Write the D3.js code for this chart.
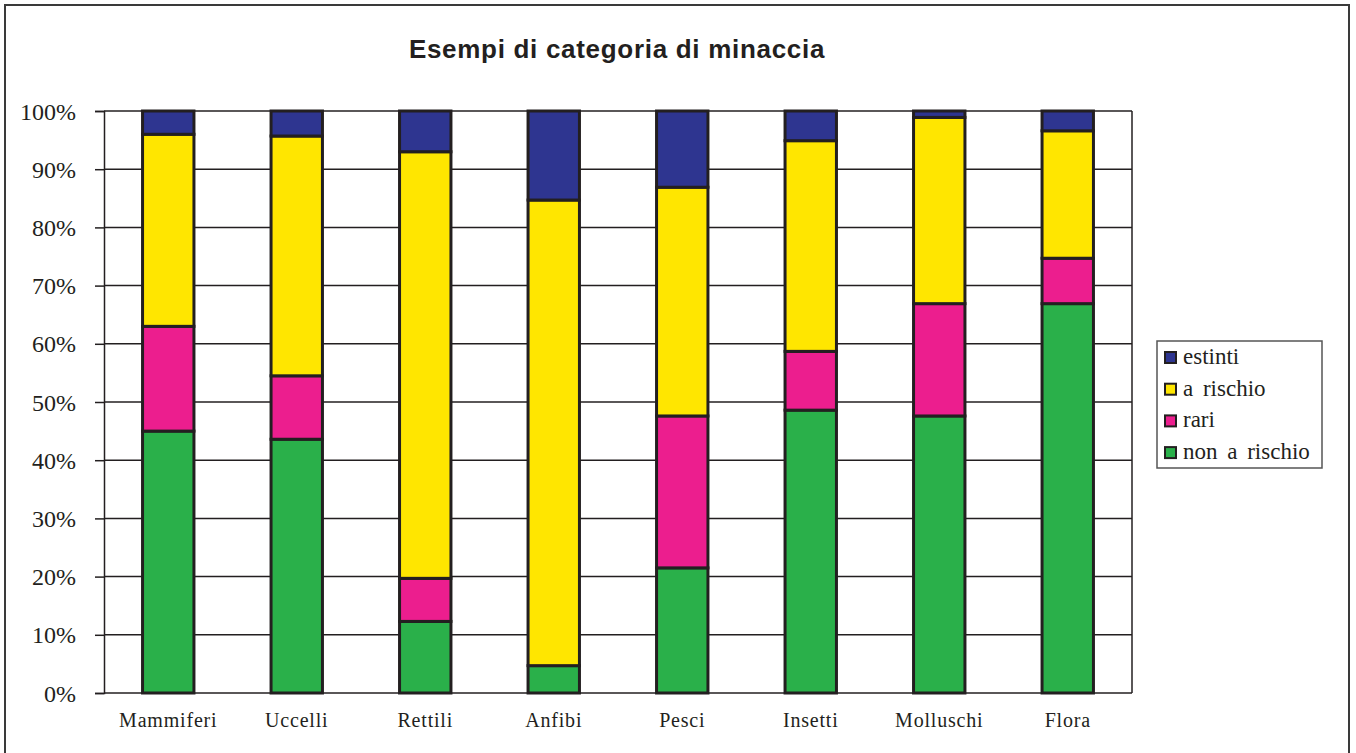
<!DOCTYPE html>
<html><head><meta charset="utf-8">
<script src="https://cdn.jsdelivr.net/npm/d3@7"></script>
<style>body{margin:0;background:#fff}svg{display:block}</style>
</head><body>
<svg id="c" width="1356" height="753"></svg>
<script>
const categories = ["Mammiferi","Uccelli","Rettili","Anfibi","Pesci","Insetti","Molluschi","Flora"];
const nonARischio = [45, 43.6, 12.3, 4.7, 21.5, 48.6, 47.6, 66.9];
const rari        = [18, 10.9, 7.4, 0, 26.1, 10.1, 19.3, 7.8];
const aRischio    = [33, 41.2, 73.3, 80, 39.3, 36.2, 32.0, 21.9];
const estinti     = [4, 4.3, 7, 15.3, 13.1, 5.1, 1.1, 3.4];
const seriesNames = ["non a rischio","rari","a rischio","estinti"];
const colors = ["#2ab04a","#ec1e8e","#ffe600","#2e3590"];
const yTicks = [0,10,20,30,40,50,60,70,80,90,100];
const title = "Esempi di categoria di minaccia";

const svg = d3.select("#c");
const L = 104, R = 1132, T = 111, B = 693;
const ink = "#231f20";
const serif = "'Liberation Serif', 'Times New Roman', serif";

svg.append("rect").attr("x",5).attr("y",5).attr("width",1344).attr("height",760)
  .attr("fill","none").attr("stroke","#3a3a3a").attr("stroke-width",2);

svg.append("text").attr("x",617).attr("y",58).attr("text-anchor","middle")
  .attr("font-family","'Liberation Sans', Arial, sans-serif").attr("font-weight","bold")
  .attr("font-size",26).attr("letter-spacing",0.7).attr("fill",ink).text(title);

const table = categories.map((c,i)=>({cat:c,"non a rischio":nonARischio[i],"rari":rari[i],"a rischio":aRischio[i],"estinti":estinti[i]}));
const stack = d3.stack().keys(seriesNames)(table);

const x = d3.scaleBand().domain(categories).range([L,R]).paddingInner(0.6).paddingOuter(0.3);
const y = d3.scaleLinear().domain([0,100]).range([B,T]);

svg.append("g").selectAll("line").data(yTicks).join("line")
  .attr("x1",L).attr("x2",R).attr("y1",d=>y(d)).attr("y2",d=>y(d))
  .attr("stroke",ink).attr("stroke-width",1.5);
svg.append("line").attr("x1",R).attr("x2",R).attr("y1",T).attr("y2",B).attr("stroke",ink).attr("stroke-width",1.5);

const yAxis = d3.axisLeft(y).tickValues(yTicks).tickFormat(d=>d+"%").tickSize(9).tickPadding(19);
const ga = svg.append("g").attr("transform",`translate(${L},0)`).call(yAxis);
ga.attr("font-family",serif).attr("font-size",24);
ga.select(".domain").attr("stroke",ink).attr("stroke-width",1.5);
ga.selectAll(".tick line").attr("stroke",ink).attr("stroke-width",1.5);
ga.selectAll(".tick text").attr("fill",ink).attr("dy","0.34em");

const xAxis = d3.axisBottom(x).tickSize(0).tickPadding(20);
const gx = svg.append("g").attr("transform",`translate(0,${B})`).call(xAxis);
gx.attr("font-family",serif).attr("font-size",20);
gx.select(".domain").remove();
gx.selectAll(".tick text").attr("letter-spacing",0.8).attr("fill",ink);

stack.forEach((s,si)=>{
  svg.append("g").selectAll("rect").data(s.filter(d=>d[1]-d[0]>0)).join("rect")
    .attr("x",d=>x(d.data.cat)).attr("width",x.bandwidth())
    .attr("y",d=>y(d[1])).attr("height",d=>y(d[0])-y(d[1]))
    .attr("fill",colors[si]).attr("stroke",ink).attr("stroke-width",3);
});

const lg = svg.append("g").attr("font-family",serif).attr("font-size",23);
lg.append("rect").attr("x",1157).attr("y",341).attr("width",165).attr("height",127)
  .attr("fill","#fff").attr("stroke","#555").attr("stroke-width",1.5);
const legOrder = [3,2,1,0];
legOrder.forEach((si,k)=>{
  const by = 364 + k*31.7;
  lg.append("rect").attr("x",1165).attr("y",by-12).attr("width",11).attr("height",11)
    .attr("fill",colors[si]).attr("stroke",ink).attr("stroke-width",2);
  lg.append("text").attr("x",1183).attr("y",by).attr("word-spacing",4).attr("fill",ink).text(seriesNames[si]);
});
</script>
</body></html>
